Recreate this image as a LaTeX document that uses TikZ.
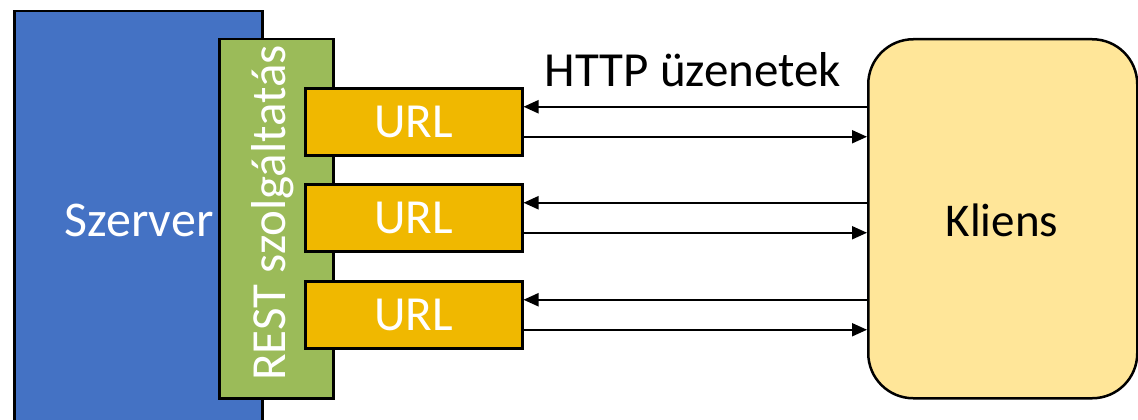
\documentclass[tikz,border=0pt]{standalone}
\usepackage{fontspec}
\setmainfont{Carlito}
\usetikzlibrary{arrows.meta,calc}
\definecolor{srvblue}{HTML}{4472C4}
\definecolor{restgreen}{HTML}{9BBB59}
\definecolor{urlgold}{HTML}{F0B800}
\definecolor{clientyellow}{HTML}{FFE699}
\tikzset{
  box/.style={draw=black,line width=2.5pt,inner sep=0pt,anchor=north west},
  lbl/.style={font=\fontsize{49}{58}\selectfont},
  msg/.style={draw=black,line width=2pt,-{Triangle[length=15pt,width=13pt]}},
}
\begin{document}
\begin{tikzpicture}[x=1pt,y=-1pt]
\useasboundingbox (0,0) rectangle (1138,420);
\clip (0,0) rectangle (1138,420);
\node[box,fill=srvblue,minimum width=248pt,minimum height=430pt] (srv) at (13,10) {};
\node[lbl,text=white,font=\fontsize{50}{60}\selectfont] (srvlbl) at (139,220) {Szerver};
\node[box,fill=restgreen,minimum width=114pt,minimum height=359pt] (rest) at (218,38) {};
\node[lbl,text=white,rotate=90] (restlbl) at (273,213) {REST szolgáltatás};
\node[box,fill=urlgold,minimum width=217pt,minimum height=67pt] (url1) at (304,87) {};
\node[box,fill=urlgold,minimum width=217pt,minimum height=67pt] (url2) at (304,183) {};
\node[box,fill=urlgold,minimum width=217pt,minimum height=67pt] (url3) at (304,280) {};
\node[lbl,text=white] at (url1) {URL};
\node[lbl,text=white] at (url2) {URL};
\node[lbl,text=white] at (url3) {URL};
\node[box,fill=clientyellow,rounded corners=45pt,minimum width=269pt,minimum height=359pt] (kl) at (867,38) {};
\node[lbl,font=\fontsize{47}{56}\selectfont] (kllbl) at (1002,220) {Kliens};
\node[lbl] (http) at (693,70) {HTTP üzenetek};
\foreach \u in {url1,url2,url3}{
  \coordinate (\u a) at ([yshift=15pt]\u.east);
  \coordinate (\u b) at ([yshift=-15pt]\u.east);
  \draw[msg] (kl.west |- \u a) -- (\u a);
  \draw[msg] (\u b) -- (kl.west |- \u b);
}
\end{tikzpicture}
\end{document}
